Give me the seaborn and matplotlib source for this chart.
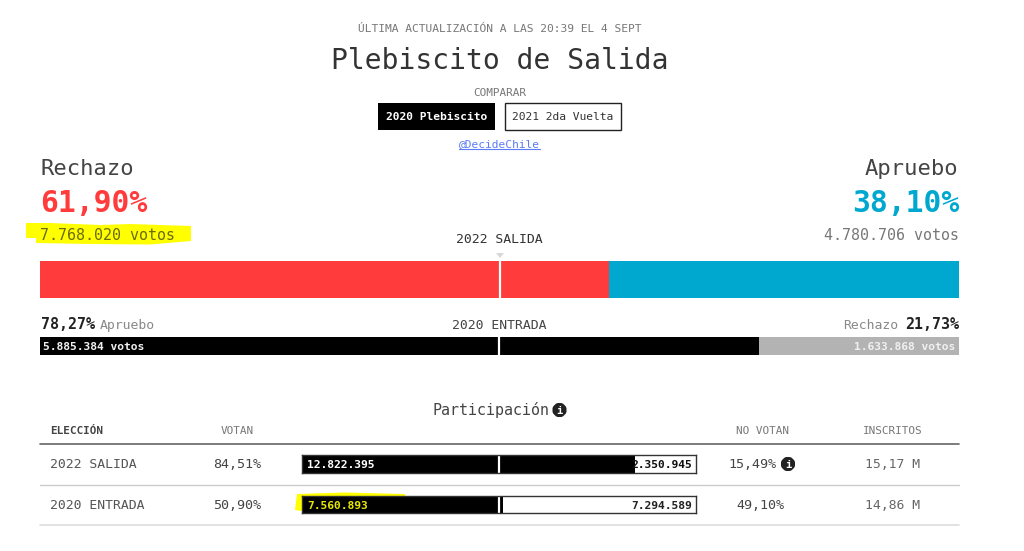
import seaborn as sns
import matplotlib.pyplot as plt
from matplotlib.lines import Line2D
from matplotlib.patches import Polygon, Rectangle, Circle

W, H = 1024, 551

# values
salida_labels = ["Rechazo", "Apruebo"]
salida_votos = [7768020, 4780706]
salida_pct = ["61,90%", "38,10%"]
entrada_labels = ["Apruebo", "Rechazo"]
entrada_votos = [5885384, 1633868]
entrada_pct = ["78,27%", "21,73%"]
elecciones = ["2022 SALIDA", "2020 ENTRADA"]
votan = [12822395, 7560893]
no_votan = [2350945, 7294589]
votan_pct = ["84,51%", "50,90%"]
no_votan_pct = ["15,49%", "49,10%"]
inscritos = ["15,17 M", "14,86 M"]
columnas = ["ELECCIÓN", "VOTAN", "NO VOTAN", "INSCRITOS"]

RED = "#ff3b3b"
BLUE = "#00a8d0"
YELLOW = "#ffff00"

sns.set_theme(style="white")
plt.rcParams['font.family'] = ['DejaVu Sans Mono']

fig = plt.figure(figsize=(W / 100, H / 100), dpi=100, facecolor="white")


def fx(x):
    return x / W


def fy(y):
    return 1 - y / H


def label(x, y, s, size, color="#444444", ha="left", weight="normal", zorder=10):
    # x, y in pixels of the image, y is the text baseline
    return fig.text(fx(x), fy(y), s, fontsize=size, color=color, ha=ha, va="baseline",
                    fontweight=weight, zorder=zorder)


def hline(x0, x1, y, color, lw=1.0):
    fig.add_artist(Line2D([fx(x0), fx(x1)], [fy(y), fy(y)], color=color, lw=lw))


def box(x0, y0, x1, y1, face, edge="none", lw=1.0):
    fig.add_artist(Rectangle((fx(x0), fy(y1)), fx(x1 - x0), (y1 - y0) / H, facecolor=face,
                             edgecolor=edge, lw=lw, transform=fig.transFigure))


def circle_pts(x, y, r):
    c = Circle((x, y), r)
    pts = c.get_path().transformed(c.get_patch_transform()).vertices
    return [(fx(a), fy(b)) for a, b in pts]


def info(x, y, r=7):
    # round info badge
    fig.add_artist(Polygon(circle_pts(x, y, r), closed=True, facecolor="#222222", edgecolor="none",
                           transform=fig.transFigure, zorder=5))
    fig.text(fx(x), fy(y + 0.5), "i", fontsize=7.5, color="white", ha="center", va="center",
             fontweight="bold", zorder=6)


def stacked(x0, y0, x1, y1, first, second, c_first, c_second, spine=None):
    # long bar = total behind, first segment on top, white tick at the middle
    ax = fig.add_axes([fx(x0), fy(y1), fx(x1 - x0), (y1 - y0) / H], zorder=3)
    total = first + second
    sns.barplot(x=[total], y=[""], orient="h", color=c_second, width=1, saturation=1, linewidth=0, ax=ax)
    sns.barplot(x=[first], y=[""], orient="h", color=c_first, width=1, saturation=1, linewidth=0, ax=ax)
    ax.axvline(total / 2, color="white", lw=1.6)
    ax.set_xlim(0, total)
    ax.set_ylim(0.5, -0.5)
    ax.set_xticks([])
    ax.set_yticks([])
    ax.set_xlabel("")
    ax.set_ylabel("")
    for s in ax.spines.values():
        s.set_visible(spine is not None)
        if spine is not None:
            s.set_color(spine)
            s.set_linewidth(1.0)
    return ax


def miles(n):
    return f"{n:,}".replace(",", ".")


# marker highlights behind the text
fig.add_artist(Polygon([(fx(a), fy(b)) for a, b in
                        [(26, 223), (50, 223), (100, 225), (130, 224), (191, 226), (191, 241), (150, 244.5),
                         (90, 244), (36, 243), (36, 238), (26, 238)]],
                       closed=True, facecolor=YELLOW, edgecolor="none", transform=fig.transFigure, zorder=1))
fig.add_artist(Polygon([(fx(a), fy(b)) for a, b in
                        [(297, 494), (345, 492.5), (405, 494), (405, 497), (302, 497), (302, 511), (295, 510)]],
                       closed=True, facecolor=YELLOW, edgecolor="none", transform=fig.transFigure, zorder=1))

# header
label(499.5, 32, "ÚLTIMA ACTUALIZACIÓN A LAS 20:39 EL 4 SEPT", 8.1, "#777777", ha="center")
label(499.5, 69, "Plebiscito de Salida", 20.2, "#333333", ha="center")
label(499.5, 96, "COMPARAR", 7.9, "#777777", ha="center")
box(378, 103, 495, 130, "black")
box(504.5, 103.5, 621, 129.5, "white", "#222222")
label(436.5, 120, "2020 Plebiscito", 8.1, "white", ha="center", weight="bold")
label(562.5, 120, "2021 2da Vuelta", 8.1, "#333333", ha="center")
label(499.5, 147, "@DecideChile", 8.1, "#5b7cf5", ha="center")
hline(459, 540, 149, "#5b7cf5", 0.8)

# resultado 2022
label(40.5, 175, salida_labels[0], 15.9, "#444444")
label(40.5, 212, salida_pct[0], 21.4, RED, weight="bold")
label(40.5, 240, miles(salida_votos[0]) + " votos", 10.8, "#6a6a10")
label(958.5, 175, salida_labels[1], 15.9, "#444444", ha="right")
label(959, 212, salida_pct[1], 21.4, BLUE, weight="bold", ha="right")
label(958.5, 240, miles(salida_votos[1]) + " votos", 10.8, "#777777", ha="right")
label(499.5, 243, elecciones[0], 9.45, "#333333", ha="center")
fig.add_artist(Polygon([(fx(496), fy(253)), (fx(504), fy(253)), (fx(500), fy(258))], closed=True,
                       facecolor="#d8d8d8", edgecolor="none", transform=fig.transFigure))
stacked(40, 261, 959, 297.5, salida_votos[0], salida_votos[1], RED, BLUE)

# resultado 2020
label(40.5, 329, entrada_pct[0], 10.8, "#222222", weight="bold")
label(100, 329, entrada_labels[0], 9.45, "#888888")
label(499.5, 329, elecciones[1], 9.45, "#444444", ha="center")
label(898, 329, entrada_labels[1], 9.45, "#888888", ha="right")
label(959, 329, entrada_pct[1], 10.8, "#222222", weight="bold", ha="right")
stacked(40, 337, 959, 355, entrada_votos[0], entrada_votos[1], "black", "#b3b3b3")
label(43, 349.5, miles(entrada_votos[0]) + " votos", 8.1, "#f0f0f0", weight="bold")
label(955, 349.5, miles(entrada_votos[1]) + " votos", 8.1, "#f0f0f0", weight="bold", ha="right")

# participacion
label(490.5, 415, "Participación", 10.8, "#444444", ha="center")
info(559.5, 410)
label(50, 434, columnas[0], 7.9, "#444444", weight="bold")
label(237, 434, columnas[1], 7.9, "#777777", ha="center")
label(762, 434, columnas[2], 7.9, "#777777", ha="center")
label(893, 434, columnas[3], 7.9, "#777777", ha="center")
hline(40, 959, 444, "#666666", 1.2)
hline(40, 959, 484.5, "#cccccc", 1.0)
hline(40, 959, 525, "#dddddd", 1.2)

row_y = [(455, 472.5), (495.5, 513)]
row_base = [468, 509]
voto_colors = ["white", "#e8e800"]
no_voto_colors = ["#111111", "#222222"]
nv_x = [776, 784]
for i, (y0, y1) in enumerate(row_y):
    base = row_base[i]
    label(50, base, elecciones[i], 9.45, "#555555")
    label(261, base, votan_pct[i], 9.6, "#444444", ha="right")
    stacked(302, y0, 696, y1, votan[i], no_votan[i], "black", "white", spine="#333333")
    label(307, base, miles(votan[i]), 8.1, voto_colors[i], weight="bold")
    label(692, base, miles(no_votan[i]), 8.1, no_voto_colors[i], weight="bold", ha="right")
    label(nv_x[i], base, no_votan_pct[i], 9.6, "#444444", ha="right")
    label(893, base, inscritos[i], 9.45, "#666666", ha="center")
info(788, 464)

fig.savefig("out.png", dpi=100)
